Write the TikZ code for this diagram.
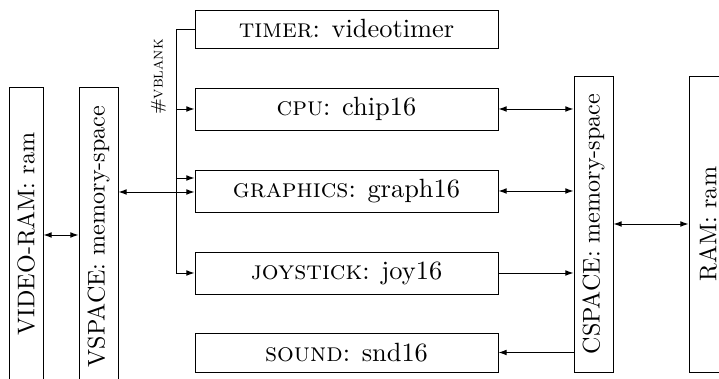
\documentclass[tikz,border=0pt]{standalone}
\usetikzlibrary{arrows.meta,calc}
\begin{document}
\begin{tikzpicture}[x=0.415pt,y=-0.415pt,
  hbox/.style={draw,minimum width=303*0.415pt,inner sep=0pt,font=\fontsize{10.95}{13}\selectfont},
  vbox/.style={draw,rotate=90,inner sep=0pt,font=\fontsize{10}{12}\selectfont},
  tip/.style={-{Latex[length=3.4pt,width=2.4pt]}},
  tips/.style={{Latex[length=3.4pt,width=2.4pt]}-{Latex[length=3.4pt,width=2.4pt]}}]
\clip (0,0) rectangle (719,379);
\node[hbox,minimum height=38*0.415pt] (timer) at (346.5,29) {\textsc{timer}: videotimer};
\node[hbox,minimum height=42*0.415pt] (cpu) at (346.5,109) {\textsc{cpu}: chip16};
\node[hbox,minimum height=42*0.415pt] (gfx) at (346.5,191) {\textsc{graphics}: graph16};
\node[hbox,minimum height=42*0.415pt] (joy) at (346.5,273) {\textsc{joystick}: joy16};
\node[hbox,minimum height=39*0.415pt] (snd) at (346.5,352.5) {\textsc{sound}: snd16};
\node[vbox,minimum width=294*0.415pt,minimum height=34*0.415pt] (vram) at (26,234) {VIDEO-RAM: ram};
\node[vbox,minimum width=299*0.415pt,minimum height=39*0.415pt] (vspace) at (98.5,236.5) {VSPACE: memory-space};
\node[vbox,minimum width=296*0.415pt,minimum height=39*0.415pt] (cspace) at (593.5,224) {CSPACE: memory-space};
\node[vbox,minimum width=296*0.415pt,minimum height=38*0.415pt] (ram) at (708,224) {RAM: ram};
\node[rotate=90,font=\fontsize{7}{9}\selectfont,inner sep=0pt] (vbl) at (158.5,77) {\#\textsc{vblank}};
% vblank bus
\coordinate (bt) at (176,29);
\coordinate (bc) at (176,109);
\coordinate (bg) at (176,178);
\coordinate (bj) at (176,273);
\draw (timer.west) -- (bt) -- (bj);
\draw[tip] (bc) -- (cpu.west |- bc);
\draw[tip] (bg) -- (gfx.west |- bg);
\draw[tip] (bj) -- (joy.west |- bj);
% left side
\coordinate (vg) at (118,192);
\draw[tips] (vspace.south |- vg) -- (gfx.west |- vg);
\coordinate (vv) at (43,235);
\draw[tips] (vram.south |- vv) -- (vspace.north |- vv);
% right side
\draw[tips] (cpu.east) -- (cspace.north |- cpu.east);
\draw[tips] (gfx.east) -- (cspace.north |- gfx.east);
\draw[tip] (joy.east) -- (cspace.north |- joy.east);
\draw[tip] (cspace.north |- snd.east) -- (snd.east);
\draw[tips] (cspace.south) -- (ram.north);
\end{tikzpicture}
\end{document}
